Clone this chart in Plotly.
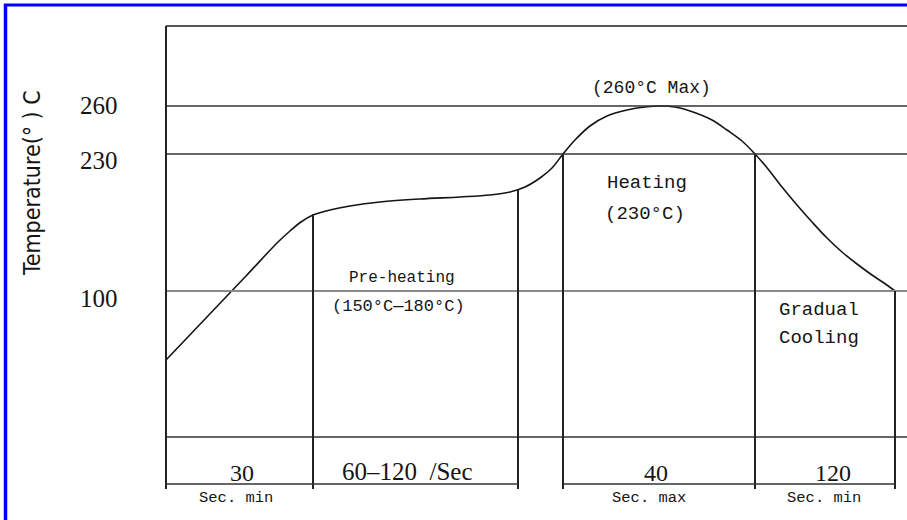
import plotly.graph_objects as go

# ---- schematic data (diagram units: x = time axis, y = temperature level) ----
curve_x = [0, 40, 80, 112, 124, 135, 147, 164, 184, 214, 254, 294, 324, 344, 359, 374,
           386, 397, 409, 424, 441, 461, 479, 494, 509, 527, 546, 561, 576, 589,
           602, 616, 631, 646, 661, 676, 691, 706, 718, 729]
curve_y = [129, 171, 213, 247, 258, 267, 274, 279, 283, 287, 290, 292, 294, 297, 302, 311,
           321, 335, 349, 363, 373, 379, 382, 383, 382, 377, 369, 359, 348, 335,
           320, 302, 284, 267, 251, 237, 225, 214, 206, 198]

temp_labels = ["260", "230", "100"]
temp_levels = [383, 335, 198]
temp_label_y = [384, 329, 191]

frame_top = 463
table_level = 52
base_level = 5
x_end = 741

# zone boundaries (time) and where each vertical starts (level)
zone_x = [147, 352, 397, 589, 729]
zone_top = [275, 299, 335, 335, 198]

# bottom bracket segments
bracket_x0 = [0, 397]
bracket_x1 = [352, 729]

# table cells
cell_text = ["30", "60\u2013120\u00a0\u00a0/Sec", "40", "120"]
cell_x = [76, 241, 490, 667]
cell_y = [16, 18, 16, 16]
unit_text = ["Sec. min", "Sec. max", "Sec. min"]
unit_x = [70, 483, 658]
unit_y = [-9, -9, -9]

# zone labels
zone_text = ["(260\u00b0C Max)", "Pre-heating", "(150\u00b0C\u2014180\u00b0C)"]
zone_text_x = [485, 236, 232]
zone_text_y = [401, 211, 183]
zone_text_size = [18, 16, 17]
left_text = ["Heating", "(230\u00b0C)", "Gradual", "Cooling"]
left_text_x = [439, 437, 611, 611]
left_text_y = [306, 275, 179, 151]

BLACK = "#151515"
SERIF = "Liberation Serif, DejaVu Serif, serif"
MONO = "Liberation Mono, DejaVu Sans Mono, monospace"

fig = go.Figure()
fig.add_trace(go.Scatter(x=curve_x, y=curve_y, mode="lines",
                         line=dict(color=BLACK, width=1.6, shape="spline", smoothing=1.0),
                         hoverinfo="skip", showlegend=False))

shapes = []
for lvl, col, w in [(frame_top, "#555555", 2), (temp_levels[0], "#333333", 1.6),
                    (temp_levels[1], "#333333", 1.6), (temp_levels[2], "#8a8a8a", 2.2),
                    (table_level, "#333333", 1.6)]:
    shapes.append(dict(type="line", xref="x", yref="y", x0=0, x1=x_end, y0=lvl, y1=lvl,
                       line=dict(color=col, width=w)))
shapes.append(dict(type="line", xref="x", yref="y", x0=0, x1=0, y0=0, y1=frame_top,
                   line=dict(color="#222222", width=2)))
for zx, zt in zip(zone_x, zone_top):
    shapes.append(dict(type="line", xref="x", yref="y", x0=zx, x1=zx, y0=0, y1=zt,
                       line=dict(color="#222222", width=2)))
for a, b in zip(bracket_x0, bracket_x1):
    shapes.append(dict(type="line", xref="x", yref="y", x0=a, x1=b, y0=base_level, y1=base_level,
                       line=dict(color="#333333", width=1.6)))
# blue page border
shapes.append(dict(type="line", xref="paper", yref="paper",
                   x0=5.5 / 907, x1=5.5 / 907, y0=1 - 4 / 520, y1=0,
                   line=dict(color="#0000ff", width=3.5)))
shapes.append(dict(type="line", xref="paper", yref="paper",
                   x0=4 / 907, x1=1, y0=1 - 5 / 520, y1=1 - 5 / 520,
                   line=dict(color="#0000ff", width=3)))

ann = []
for t, ly in zip(temp_labels, temp_label_y):
    ann.append(dict(x=-67, y=ly, text=t, xref="x", yref="y", showarrow=False,
                    font=dict(family=SERIF, size=25, color=BLACK)))
ann.append(dict(x=-134, y=306, text="Temperature(\u00b0 ) C", xref="x", yref="y", showarrow=False,
                textangle=-90,
                font=dict(family="Liberation Sans Narrow, DejaVu Sans Condensed, Liberation Sans, sans-serif",
                          size=23, color=BLACK)))
for t, x, y in zip(cell_text, cell_x, cell_y):
    ann.append(dict(x=x, y=y, text=t, xref="x", yref="y", showarrow=False,
                    font=dict(family=SERIF, size=25 if len(t) > 3 else 24, color=BLACK)))
for t, x, y in zip(unit_text, unit_x, unit_y):
    ann.append(dict(x=x, y=y, text=t, xref="x", yref="y", showarrow=False,
                    font=dict(family=MONO, size=15.5, color=BLACK)))
for t, x, y, s in zip(zone_text, zone_text_x, zone_text_y, zone_text_size):
    ann.append(dict(x=x, y=y, text=t, xref="x", yref="y", showarrow=False,
                    font=dict(family=MONO, size=s, color=BLACK)))
for t, x, y in zip(left_text, left_text_x, left_text_y):
    ann.append(dict(x=x, y=y, text=t, xref="x", yref="y", showarrow=False, xanchor="left",
                    font=dict(family=MONO, size=19, color=BLACK)))

# plot area covers the whole page; axis units map 1:1 to the diagram grid
fig.update_layout(
    width=907, height=520,
    margin=dict(l=0, r=0, t=0, b=0),
    paper_bgcolor="white", plot_bgcolor="white",
    xaxis=dict(range=[-166, x_end], visible=False, fixedrange=True),
    yaxis=dict(range=[-31, 489], visible=False, fixedrange=True),
    shapes=shapes, annotations=ann, showlegend=False,
)
fig.write_html("out.html", config={"displayModeBar": False},
               post_script="document.body.style.margin='0';")
